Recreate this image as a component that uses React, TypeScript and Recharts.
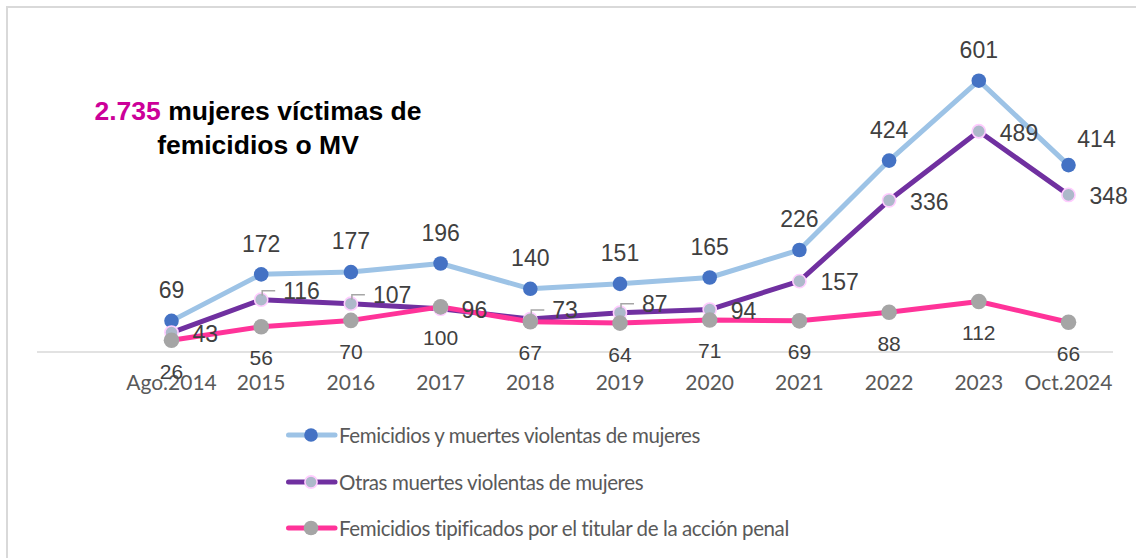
import React from 'react';
import { LineChart, Line, XAxis, YAxis, LabelList, Legend } from 'recharts';

const categories = ['Ago.2014', '2015', '2016', '2017', '2018', '2019', '2020', '2021', '2022', '2023', 'Oct.2024'];
const femicidiosMV = [69, 172, 177, 196, 140, 151, 165, 226, 424, 601, 414];
const otrasMuertes = [43, 116, 107, 96, 73, 87, 94, 157, 336, 489, 348];
const tipificados = [26, 56, 70, 100, 67, 64, 71, 69, 88, 112, 66];
const seriesNames = [
  'Femicidios y muertes violentas de mujeres',
  'Otras muertes violentas de mujeres',
  'Femicidios tipificados por el titular de la acción penal',
];

const data = categories.map((c, i) => ({
  cat: c,
  fmv: femicidiosMV[i],
  otras: otrasMuertes[i],
  tip: tipificados[i],
}));

const LABEL_FONT = "'Liberation Sans', Arial, sans-serif";
const AXIS_FONT = "Lato, 'Liberation Sans', sans-serif";
const LEADER_IDX = new Set([1, 2, 4, 5]);

const styles: Record<string, { line: string; dotFill: string; dotStroke: string; r: number; sw: number }> = {
  fmv: { line: '#9DC3E6', dotFill: '#4472C4', dotStroke: '#4472C4', r: 7.3, sw: 0 },
  otras: { line: '#7030A0', dotFill: '#ADB9CA', dotStroke: '#FFCCFF', r: 6.6, sw: 1.6 },
  tip: { line: '#FF3399', dotFill: '#A5A5A5', dotStroke: '#A5A5A5', r: 7.8, sw: 0 },
};

const BlueLabel = (p: any) => {
  const x = Number(p.x), y = Number(p.y);
  const last = p.index === categories.length - 1;
  const cx = last ? x + 28 : x;
  const cy = last ? y - 26 : y - 31;
  return (
    <text x={cx} y={cy + 8.3} textAnchor="middle" fontSize={23} fill="#404040" fontFamily={LABEL_FONT}>
      {p.value}
    </text>
  );
};

const PurpleLabel = (p: any) => {
  const x = Number(p.x), y = Number(p.y);
  if (LEADER_IDX.has(p.index)) {
    const ly = y - 9;
    return (
      <g>
        <path d={`M${x + 1},${ly + 5}L${x + 1},${ly}L${x + 14},${ly}`} stroke="#A6A6A6" strokeWidth={1.5} fill="none" />
        <text x={x + 22} y={ly + 8.3} textAnchor="start" fontSize={23} fill="#404040" fontFamily={LABEL_FONT}>
          {p.value}
        </text>
      </g>
    );
  }
  return (
    <text x={x + 21} y={y + 1 + 8.3} textAnchor="start" fontSize={23} fill="#404040" fontFamily={LABEL_FONT}>
      {p.value}
    </text>
  );
};

const PinkLabel = (p: any) => {
  const x = Number(p.x), y = Number(p.y);
  return (
    <text x={x} y={y + 31 + 7.5} textAnchor="middle" fontSize={21} fill="#404040" fontFamily={LABEL_FONT}>
      {p.value}
    </text>
  );
};

const Tick = (p: any) => (
  <text x={p.x} y={Number(p.y) + 38} textAnchor="middle" fontSize={21} fill="#595959" fontFamily={AXIS_FONT}>
    {p.payload.value}
  </text>
);

const keys = ['fmv', 'otras', 'tip'];

const LegendContent = () => (
  <div style={{ fontFamily: AXIS_FONT, fontSize: 20.5, letterSpacing: '-0.4px', color: '#595959' }}>
    {keys.map((k, i) => {
      const s = styles[k];
      return (
        <div key={k} style={{ display: 'flex', alignItems: 'center', height: 46.5 }}>
          <svg width={53} height={20} style={{ display: 'block' }}>
            <line x1={2.5} y1={10} x2={49} y2={10} stroke={s.line} strokeWidth={5} strokeLinecap="round" />
            <circle cx={25} cy={10} r={s.r - 0.5} fill={s.dotFill} stroke={s.dotStroke} strokeWidth={s.sw} />
          </svg>
          <span style={{ whiteSpace: 'nowrap' }}>{seriesNames[i]}</span>
        </div>
      );
    })}
  </div>
);

export default function App() {
  return (
    <div style={{ position: 'absolute', left: 0, top: 0, width: 1136, height: 558, overflow: 'hidden', background: '#fff' }}>
      <div
        style={{
          position: 'absolute',
          left: 6,
          top: 5.5,
          width: 1200,
          height: 700,
          borderLeft: '2px solid #D9D9D9',
          borderTop: '2px solid #D9D9D9',
        }}
      />
      <div
        style={{
          position: 'absolute',
          left: 58,
          top: 94,
          width: 400,
          textAlign: 'center',
          fontFamily: "'Liberation Sans', Arial, sans-serif",
          fontWeight: 'bold',
          fontSize: 26.5,
          lineHeight: '34px',
          color: '#000',
        }}
      >
        <span style={{ color: '#CC0099' }}>2.735</span> mujeres víctimas de
        <br />
        femicidios o MV
      </div>
      <div style={{ position: 'absolute', left: 0, top: 0 }}>
        <LineChart width={1136} height={558} data={data} margin={{ top: 36, right: 23, left: 37, bottom: 176 }}>
          <XAxis
            dataKey="cat"
            scale="point"
            padding={{ left: 134.5, right: 44.5 }}
            height={30}
            tickLine={false}
            tickSize={0}
            tickMargin={0}
            stroke="#D9D9D9"
            strokeWidth={1.5}
            tick={<Tick />}
            interval={0}
          />
          <YAxis hide domain={[0, 700]} />
          <Legend
            layout="vertical"
            align="center"
            verticalAlign="middle"
            content={<LegendContent />}
            wrapperStyle={{ position: 'absolute', left: 286, top: 412, width: 620 }}
          />
          {keys.map((k, i) => {
            const s = styles[k];
            return (
              <Line
                key={k}
                dataKey={k}
                name={seriesNames[i]}
                type="linear"
                stroke={s.line}
                strokeWidth={5}
                strokeLinejoin="round"
                isAnimationActive={false}
                activeDot={false}
                dot={{ r: s.r, fill: s.dotFill, stroke: s.dotStroke, strokeWidth: s.sw }}
              >
                <LabelList
                  dataKey={k}
                  content={k === 'fmv' ? <BlueLabel /> : k === 'otras' ? <PurpleLabel /> : <PinkLabel />}
                />
              </Line>
            );
          })}
        </LineChart>
      </div>
    </div>
  );
}
